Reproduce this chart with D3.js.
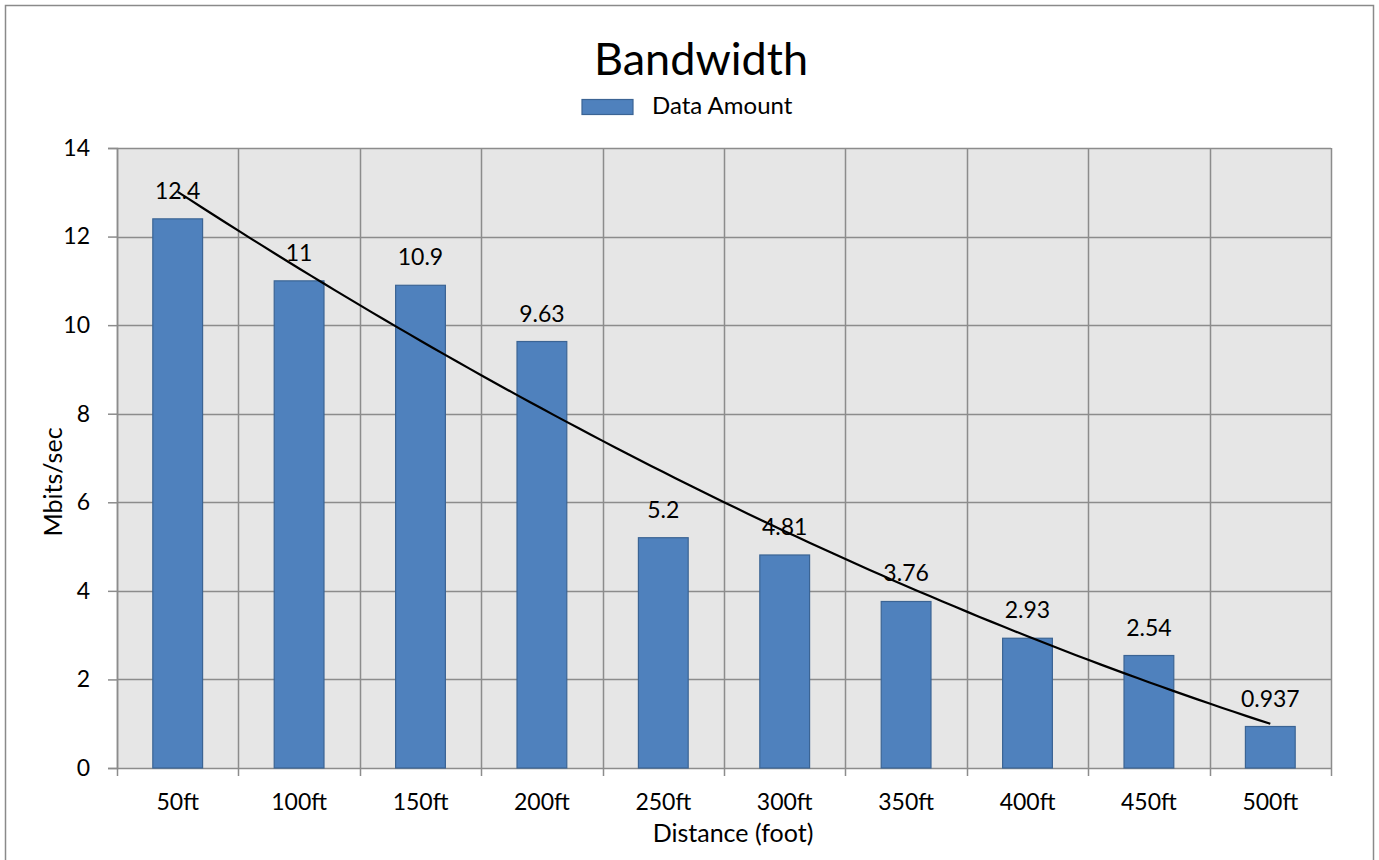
<!DOCTYPE html>
<html>
<head>
<meta charset="utf-8">
<script src="https://cdn.jsdelivr.net/npm/d3@7"></script>
<style>
  html, body { margin: 0; padding: 0; background: #ffffff; }
  svg { display: block; font-family: Lato, "Open Sans", sans-serif; }
</style>
</head>
<body>
<svg id="chart" width="1379" height="860"></svg>
<script>
// Bandwidth measured at each distance
const categories = ["50ft", "100ft", "150ft", "200ft", "250ft", "300ft", "350ft", "400ft", "450ft", "500ft"];
const dataAmount = [12.4, 11, 10.9, 9.63, 5.2, 4.81, 3.76, 2.93, 2.54, 0.937];
const yTicks = [0, 2, 4, 6, 8, 10, 12, 14];

const titleText = "Bandwidth";
const seriesName = "Data Amount";
const xTitle = "Distance (foot)";
const yTitle = "Mbits/sec";

const svg = d3.select("#chart");

const plot = { left: 117, right: 1331, top: 148, bottom: 768 };

// Outer chart frame
svg.append("rect")
  .attr("x", 5.5).attr("y", 5.5)
  .attr("width", 1368).attr("height", 870)
  .attr("fill", "#ffffff")
  .attr("stroke", "#8a8a8a").attr("stroke-width", 1.5);

const x = d3.scaleBand()
  .domain(categories)
  .range([plot.left, plot.right])
  .paddingInner(0.59)
  .paddingOuter(0.295);

const y = d3.scaleLinear()
  .domain([0, 14])
  .range([plot.bottom, plot.top]);

const step = x.step();
const boundary = c => x(c) - step * x.paddingInner() / 2;

// Plot background
svg.append("rect")
  .attr("x", plot.left).attr("y", plot.top)
  .attr("width", plot.right - plot.left).attr("height", plot.bottom - plot.top)
  .attr("fill", "#e6e6e6");

const gridColor = "#8c8c8c";

// Horizontal gridlines
svg.append("g").selectAll("line")
  .data(yTicks)
  .join("line")
  .attr("x1", plot.left).attr("x2", plot.right)
  .attr("y1", d => Math.round(y(d)) + 0.5).attr("y2", d => Math.round(y(d)) + 0.5)
  .attr("stroke", gridColor).attr("stroke-width", 1.5);

// Vertical gridlines at category boundaries
const vLines = categories.map(boundary).concat([plot.right]);
svg.append("g").selectAll("line")
  .data(vLines)
  .join("line")
  .attr("x1", d => Math.round(d) + 0.5).attr("x2", d => Math.round(d) + 0.5)
  .attr("y1", plot.top).attr("y2", plot.bottom + 8)
  .attr("stroke", gridColor).attr("stroke-width", 1.5);

// Y axis
const yAxis = d3.axisLeft(y)
  .tickValues(yTicks)
  .tickSize(9)
  .tickPadding(18)
  .tickFormat(d3.format("d"));
const yg = svg.append("g")
  .attr("transform", `translate(${plot.left},0)`)
  .call(yAxis);
yg.select(".domain").attr("stroke", gridColor).attr("stroke-width", 1.5);
yg.selectAll(".tick line").attr("stroke", gridColor).attr("stroke-width", 1.5);
yg.selectAll(".tick text")
  .attr("fill", "#000").attr("font-size", 23).attr("font-family", "Lato");

// X axis labels
const xAxis = d3.axisBottom(x).tickSize(0).tickPadding(26);
const xg = svg.append("g")
  .attr("transform", `translate(0,${plot.bottom})`)
  .call(xAxis);
xg.select(".domain").remove();
xg.selectAll(".tick text")
  .attr("fill", "#000").attr("font-size", 23).attr("font-family", "Lato");

// Bars
svg.append("g").selectAll("rect")
  .data(dataAmount)
  .join("rect")
  .attr("x", (d, i) => x(categories[i]))
  .attr("y", d => y(d))
  .attr("width", x.bandwidth())
  .attr("height", d => y(0) - y(d))
  .attr("fill", "#4f81bd")
  .attr("stroke", "#3b6494").attr("stroke-width", 1.2);

// Data labels
svg.append("g").selectAll("text")
  .data(dataAmount)
  .join("text")
  .attr("x", (d, i) => x(categories[i]) + x.bandwidth() / 2)
  .attr("y", d => y(d) - 20)
  .attr("text-anchor", "middle")
  .attr("font-size", 23)
  .attr("fill", "#000")
  .text(d => String(d));

// Second-order polynomial trendline (least squares on category index)
const n = dataAmount.length;
const xs = dataAmount.map((d, i) => i + 1);
const sums = { x: 0, x2: 0, x3: 0, x4: 0, y: 0, xy: 0, x2y: 0 };
xs.forEach((xi, i) => {
  const yi = dataAmount[i];
  sums.x += xi; sums.x2 += xi * xi; sums.x3 += xi ** 3; sums.x4 += xi ** 4;
  sums.y += yi; sums.xy += xi * yi; sums.x2y += xi * xi * yi;
});
function solve3(A, b) {
  const M = A.map((row, i) => row.concat([b[i]]));
  for (let c = 0; c < 3; c++) {
    let p = c;
    for (let r = c + 1; r < 3; r++) if (Math.abs(M[r][c]) > Math.abs(M[p][c])) p = r;
    [M[c], M[p]] = [M[p], M[c]];
    for (let r = 0; r < 3; r++) {
      if (r === c) continue;
      const f = M[r][c] / M[c][c];
      for (let k = c; k < 4; k++) M[r][k] -= f * M[c][k];
    }
  }
  return M.map((row, i) => row[3] / row[i]);
}
const [a0, a1, a2] = solve3(
  [[n, sums.x, sums.x2], [sums.x, sums.x2, sums.x3], [sums.x2, sums.x3, sums.x4]],
  [sums.y, sums.xy, sums.x2y]
);
const trend = t => a0 + a1 * t + a2 * t * t;
const xPos = t => x(categories[0]) + x.bandwidth() / 2 + (t - 1) * step;
const trendPts = d3.range(1, n + 0.001, 0.1).map(t => [xPos(t), y(trend(t))]);
svg.append("path")
  .attr("d", d3.line()(trendPts))
  .attr("fill", "none")
  .attr("stroke", "#000")
  .attr("stroke-width", 2.2);

// Title
svg.append("text")
  .attr("x", 701).attr("y", 75)
  .attr("text-anchor", "middle")
  .attr("font-size", 45)
  .attr("fill", "#000")
  .text(titleText);

// Legend
svg.append("rect")
  .attr("x", 582).attr("y", 99.5)
  .attr("width", 51).attr("height", 15)
  .attr("fill", "#4f81bd")
  .attr("stroke", "#3b6494").attr("stroke-width", 1.2);
svg.append("text")
  .attr("x", 652).attr("y", 114)
  .attr("font-size", 24)
  .attr("fill", "#000")
  .text(seriesName);

// Axis titles
svg.append("text")
  .attr("x", 733).attr("y", 842)
  .attr("text-anchor", "middle")
  .attr("font-size", 25)
  .attr("fill", "#000")
  .text(xTitle);

svg.append("text")
  .attr("transform", "translate(62,482) rotate(-90)")
  .attr("text-anchor", "middle")
  .attr("font-size", 25)
  .attr("fill", "#000")
  .text(yTitle);
</script>
</body>
</html>
